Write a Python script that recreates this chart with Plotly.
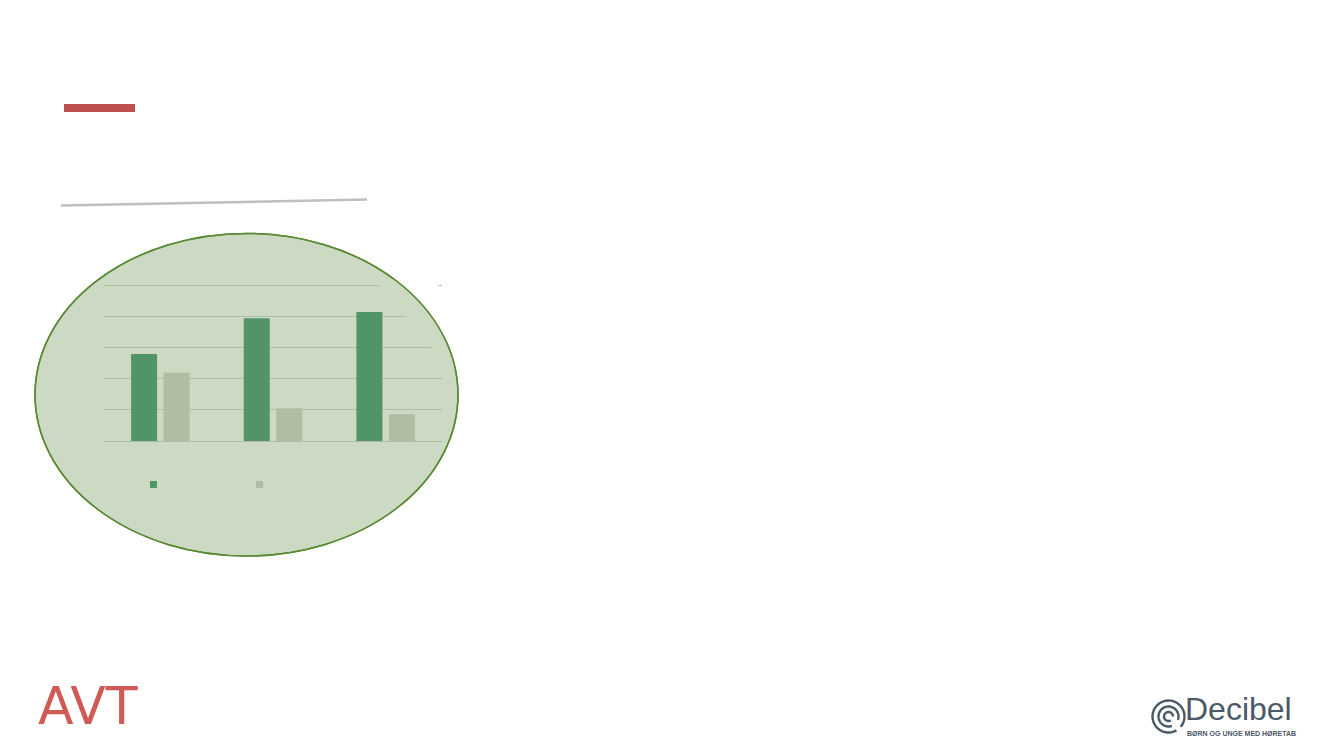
import numpy as np
import plotly.graph_objects as go

# ---- data ----
categories = ["Kategori 1", "Kategori 2", "Kategori 3"]
series_1 = [2.79, 3.94, 4.14]
series_2 = [2.19, 1.05, 0.86]
y_ticks = [0, 1, 2, 3, 4, 5]

W, H = 1333, 750
OFF = 8  # page body margin

def px(x):
    return (x - OFF) / W

def py(y):
    return 1 - (y - OFF) / H

C_DARK = "#52946A"
C_LIGHT = "#AFBDA5"
C_FILL = "#CCD9C3"
C_EDGE = "#5A8A35"
C_GRID = "#AEBBA6"

fig = go.Figure()
fig.add_trace(go.Bar(x=categories, y=series_1, marker=dict(color=C_DARK, line=dict(width=0)),
                     showlegend=False, hoverinfo="skip"))
fig.add_trace(go.Bar(x=categories, y=series_2, marker=dict(color=C_LIGHT, line=dict(width=0)),
                     showlegend=False, hoverinfo="skip"))

unit = (441 - 285.3) / 5
pad = 0.05
PL, PR = 104, 442
PB, PT = 441 + pad * unit, 285.3 - pad * unit

# ellipse geometry (pixels)
ecx, ecy, erx, ery = 246.5, 394.7, 211.5, 161.3

def ell_x(y):
    return ecx + erx * np.sqrt(max(0.0, 1 - ((y - ecy) / ery) ** 2))

def to_path(pts, close=True):
    s = "M " + " L ".join(f"{px(x):.5f},{py(y):.5f}" for x, y in pts)
    return s + (" Z" if close else "")

shapes = []
# ellipse background
shapes.append(dict(type="circle", xref="paper", yref="paper",
                   x0=px(ecx - erx), x1=px(ecx + erx), y0=py(ecy + ery), y1=py(ecy - ery),
                   fillcolor=C_FILL, line=dict(color=C_EDGE, width=1.5), layer="below"))

# mask clipping grid lines on the right (inside ellipse); does not overlap any bar
ys = np.linspace(279, 366, 40)
inner = [(379.5, 279), (379.5, 288), (407, 319), (435, 351), (443, 366)]
pts_in = [(ell_x(y) - 0.5, y) for y in ys[::-1]]
shapes.append(dict(type="path", xref="paper", yref="paper", path=to_path(inner + pts_in),
                   fillcolor=C_FILL, line=dict(width=0), layer="above"))
# mask outside ellipse (white)
ys2 = np.linspace(279, 335, 30)
pts_out = [(ell_x(y) + 0.5, y) for y in ys2]
outer = [(445, 335), (445, 290), (438.5, 290), (438.5, 279)]
shapes.append(dict(type="path", xref="paper", yref="paper", path=to_path(pts_out + outer),
                   fillcolor="white", line=dict(width=0), layer="above"))
# redraw ellipse outline on top
shapes.append(dict(type="circle", xref="paper", yref="paper",
                   x0=px(ecx - erx), x1=px(ecx + erx), y0=py(ecy + ery), y1=py(ecy - ery),
                   fillcolor="rgba(0,0,0,0)", line=dict(color=C_EDGE, width=1.5), layer="above"))

# legend squares
for cx, col in [(153.5, C_DARK), (259.5, C_LIGHT)]:
    shapes.append(dict(type="rect", xref="paper", yref="paper",
                       x0=px(cx - 3.5), x1=px(cx + 3.5), y0=py(488), y1=py(481),
                       fillcolor=col, line=dict(width=0), layer="above"))

# red title accent bar
shapes.append(dict(type="rect", xref="paper", yref="paper",
                   x0=px(64), x1=px(135), y0=py(112), y1=py(104),
                   fillcolor="#C0504D", line=dict(width=0)))
# grey underline
shapes.append(dict(type="line", xref="paper", yref="paper",
                   x0=px(61), y0=py(205.5), x1=px(367), y1=py(199.5),
                   line=dict(color="#BFBFBF", width=2.5)))

# Decibel spiral icon
LOGO = "#4C5966"
cxl, cyl = 1168.5, 716.5
def arc(r, a0, a1, cx=cxl, cy=cyl, n=40):
    a = np.radians(np.linspace(a0, a1, n))
    return [(cx + r * np.cos(t), cy - r * np.sin(t)) for t in a]
for r, a0, a1 in [(16, -40, 300), (10, -20, 290), (4.5, 0, 300)]:
    shapes.append(dict(type="path", xref="paper", yref="paper", path=to_path(arc(r, a0, a1), close=False),
                       line=dict(color=LOGO, width=2.4)))

annotations = [
    dict(text="AVT", x=px(36), y=py(738), xref="paper", yref="paper",
         xanchor="left", yanchor="bottom", showarrow=False,
         font=dict(family="DejaVu Sans", size=52, color="#D05A56")),
    dict(text="Decibel", x=px(1183), y=py(729), xref="paper", yref="paper",
         xanchor="left", yanchor="bottom", showarrow=False,
         font=dict(family="Liberation Sans", size=32, color=LOGO)),
    dict(text="<b>BØRN OG UNGE MED HØRETAB</b>", x=px(1185), y=py(739), xref="paper", yref="paper",
         xanchor="left", yanchor="bottom", showarrow=False,
         font=dict(family="Liberation Sans", size=7, color=LOGO)),
]

fig.update_layout(
    width=W, height=H,
    margin=dict(l=0, r=0, t=0, b=0),
    paper_bgcolor="white",
    plot_bgcolor="rgba(0,0,0,0)",
    barmode="group", bargap=0.423, bargroupgap=0.2,
    showlegend=False,
    shapes=shapes,
    annotations=annotations,
    xaxis=dict(domain=[px(PL), px(PR)], showticklabels=False, showgrid=False,
               zeroline=False, showline=False, ticks=""),
    yaxis=dict(domain=[py(PB), py(PT)], range=[-pad, 5 + pad],
               tickvals=y_ticks, showticklabels=False, showgrid=True, gridcolor=C_GRID, gridwidth=1.2,
               zeroline=False, showline=False, ticks=""),
)

fig.write_html("out.html")
